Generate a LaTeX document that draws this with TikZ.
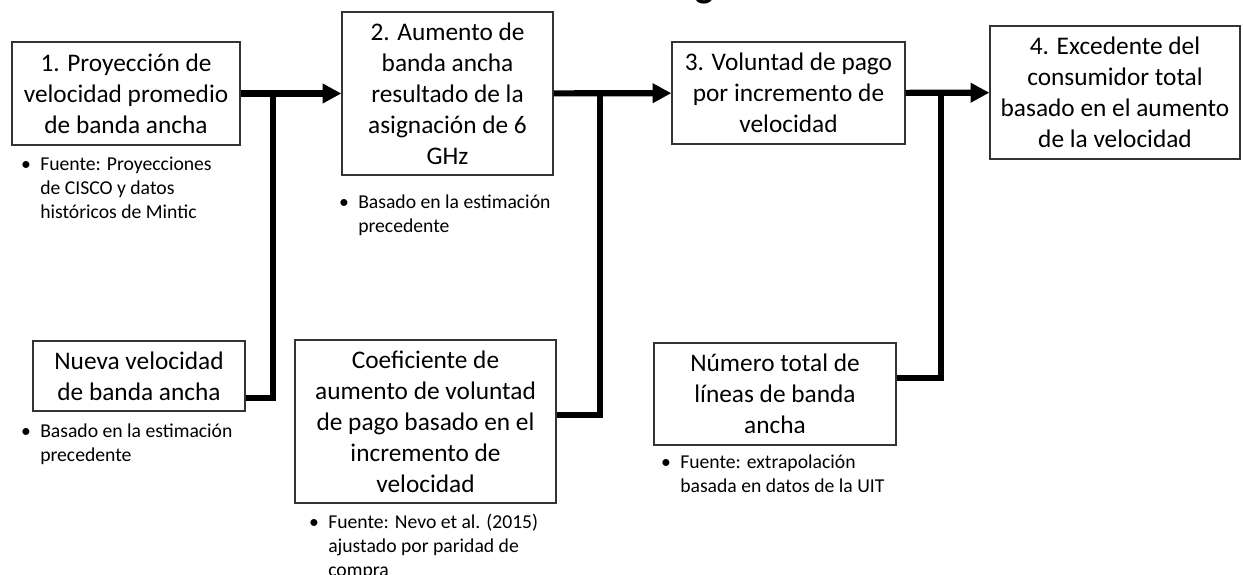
\documentclass[tikz,border=0pt]{standalone}
\usepackage{fontspec}
\setmainfont{Carlito}
\usetikzlibrary{arrows.meta}
\tikzset{
  box/.style={draw=black!80, line width=1pt, align=center, inner sep=0pt,
    font=\fontsize{19}{23.25}\selectfont},
  note/.style={anchor=north west, align=left, inner sep=0pt,
    font=\fontsize{14.75}{18}\selectfont},
  conn/.style={line width=4.6pt, line join=miter, draw=black},
  arr/.style={conn, -{Triangle[length=14pt,width=14pt]}},
}
\newcommand{\bul}{\llap{\textbullet\hspace{7pt}}}
\begin{document}
\begin{tikzpicture}[x=0.75pt,y=-0.75pt]
\useasboundingbox (0,0) rectangle (1243,575);
% title (cut off at the top)
\node[anchor=base, font=\fontsize{29}{34}\bfseries, inner sep=0pt] (title) at (595,-3) {Reducción de la congestión};
% main boxes
\node[box, minimum width=171pt, minimum height=77.25pt] (b1) at (126,93.5)
  {1. Proyección de\\velocidad promedio\\de banda ancha};
\node[box, minimum width=158.25pt, minimum height=122.25pt] (b2) at (447.5,93.5)
  {2. Aumento de\\banda ancha\\resultado de la\\asignación de 6\\GHz};
\node[box, minimum width=174.75pt, minimum height=76.5pt] (b3) at (788.5,93)
  {3. Voluntad de pago\\por incremento de\\velocidad};
\node[box, minimum width=187.5pt, minimum height=99.75pt] (b4) at (1115,92.5)
  {4. Excedente del\\consumidor total\\basado en el aumento\\de la velocidad};
% input boxes
\node[box, minimum width=159pt, minimum height=52.5pt] (nv) at (139,376)
  {Nueva velocidad\\de banda ancha};
\node[box, minimum width=195.75pt, minimum height=122.25pt] (cf) at (425.5,421.5)
  {Coeficiente de\\aumento de voluntad\\de pago basado en el\\incremento de\\velocidad};
\node[box, minimum width=181.5pt, minimum height=76.5pt] (nt) at (775,394)
  {Número total de\\líneas de banda\\ancha};
% notes
\node[note] (n1) at (40,157) {\bul Fuente: Proyecciones\\de CISCO y datos\\históricos de Mintic};
\node[note] (n2) at (358,195) {\bul Basado en la estimación\\precedente};
\node[note] (n3) at (40,424) {\bul Basado en la estimación\\precedente};
\node[note] (n4) at (328,514) {\bul Fuente: Nevo et al. (2015)\\ajustado por paridad de\\compra};
\node[note] (n5) at (680,455) {\bul Fuente: extrapolación\\basada en datos de la UIT};
% junction coordinates
\coordinate (j1) at (273,93.5);
\coordinate (k1) at (273,398);
\coordinate (j2) at (600,93.5);
\coordinate (k2) at (600,415);
\coordinate (j3) at (941,93);
\coordinate (k3) at (941,378);
% connectors
\draw[arr] (b1) -- (b2);
\draw[arr] (b2) -- (b3);
\draw[arr] (b3) -- (b4);
\draw[conn] (nv.east |- k1) -- (k1) -- (j1);
\draw[conn] (cf.east |- k2) -- (k2) -- (j2);
\draw[conn] (nt.east |- k3) -- (k3) -- (j3);
\end{tikzpicture}
\end{document}
